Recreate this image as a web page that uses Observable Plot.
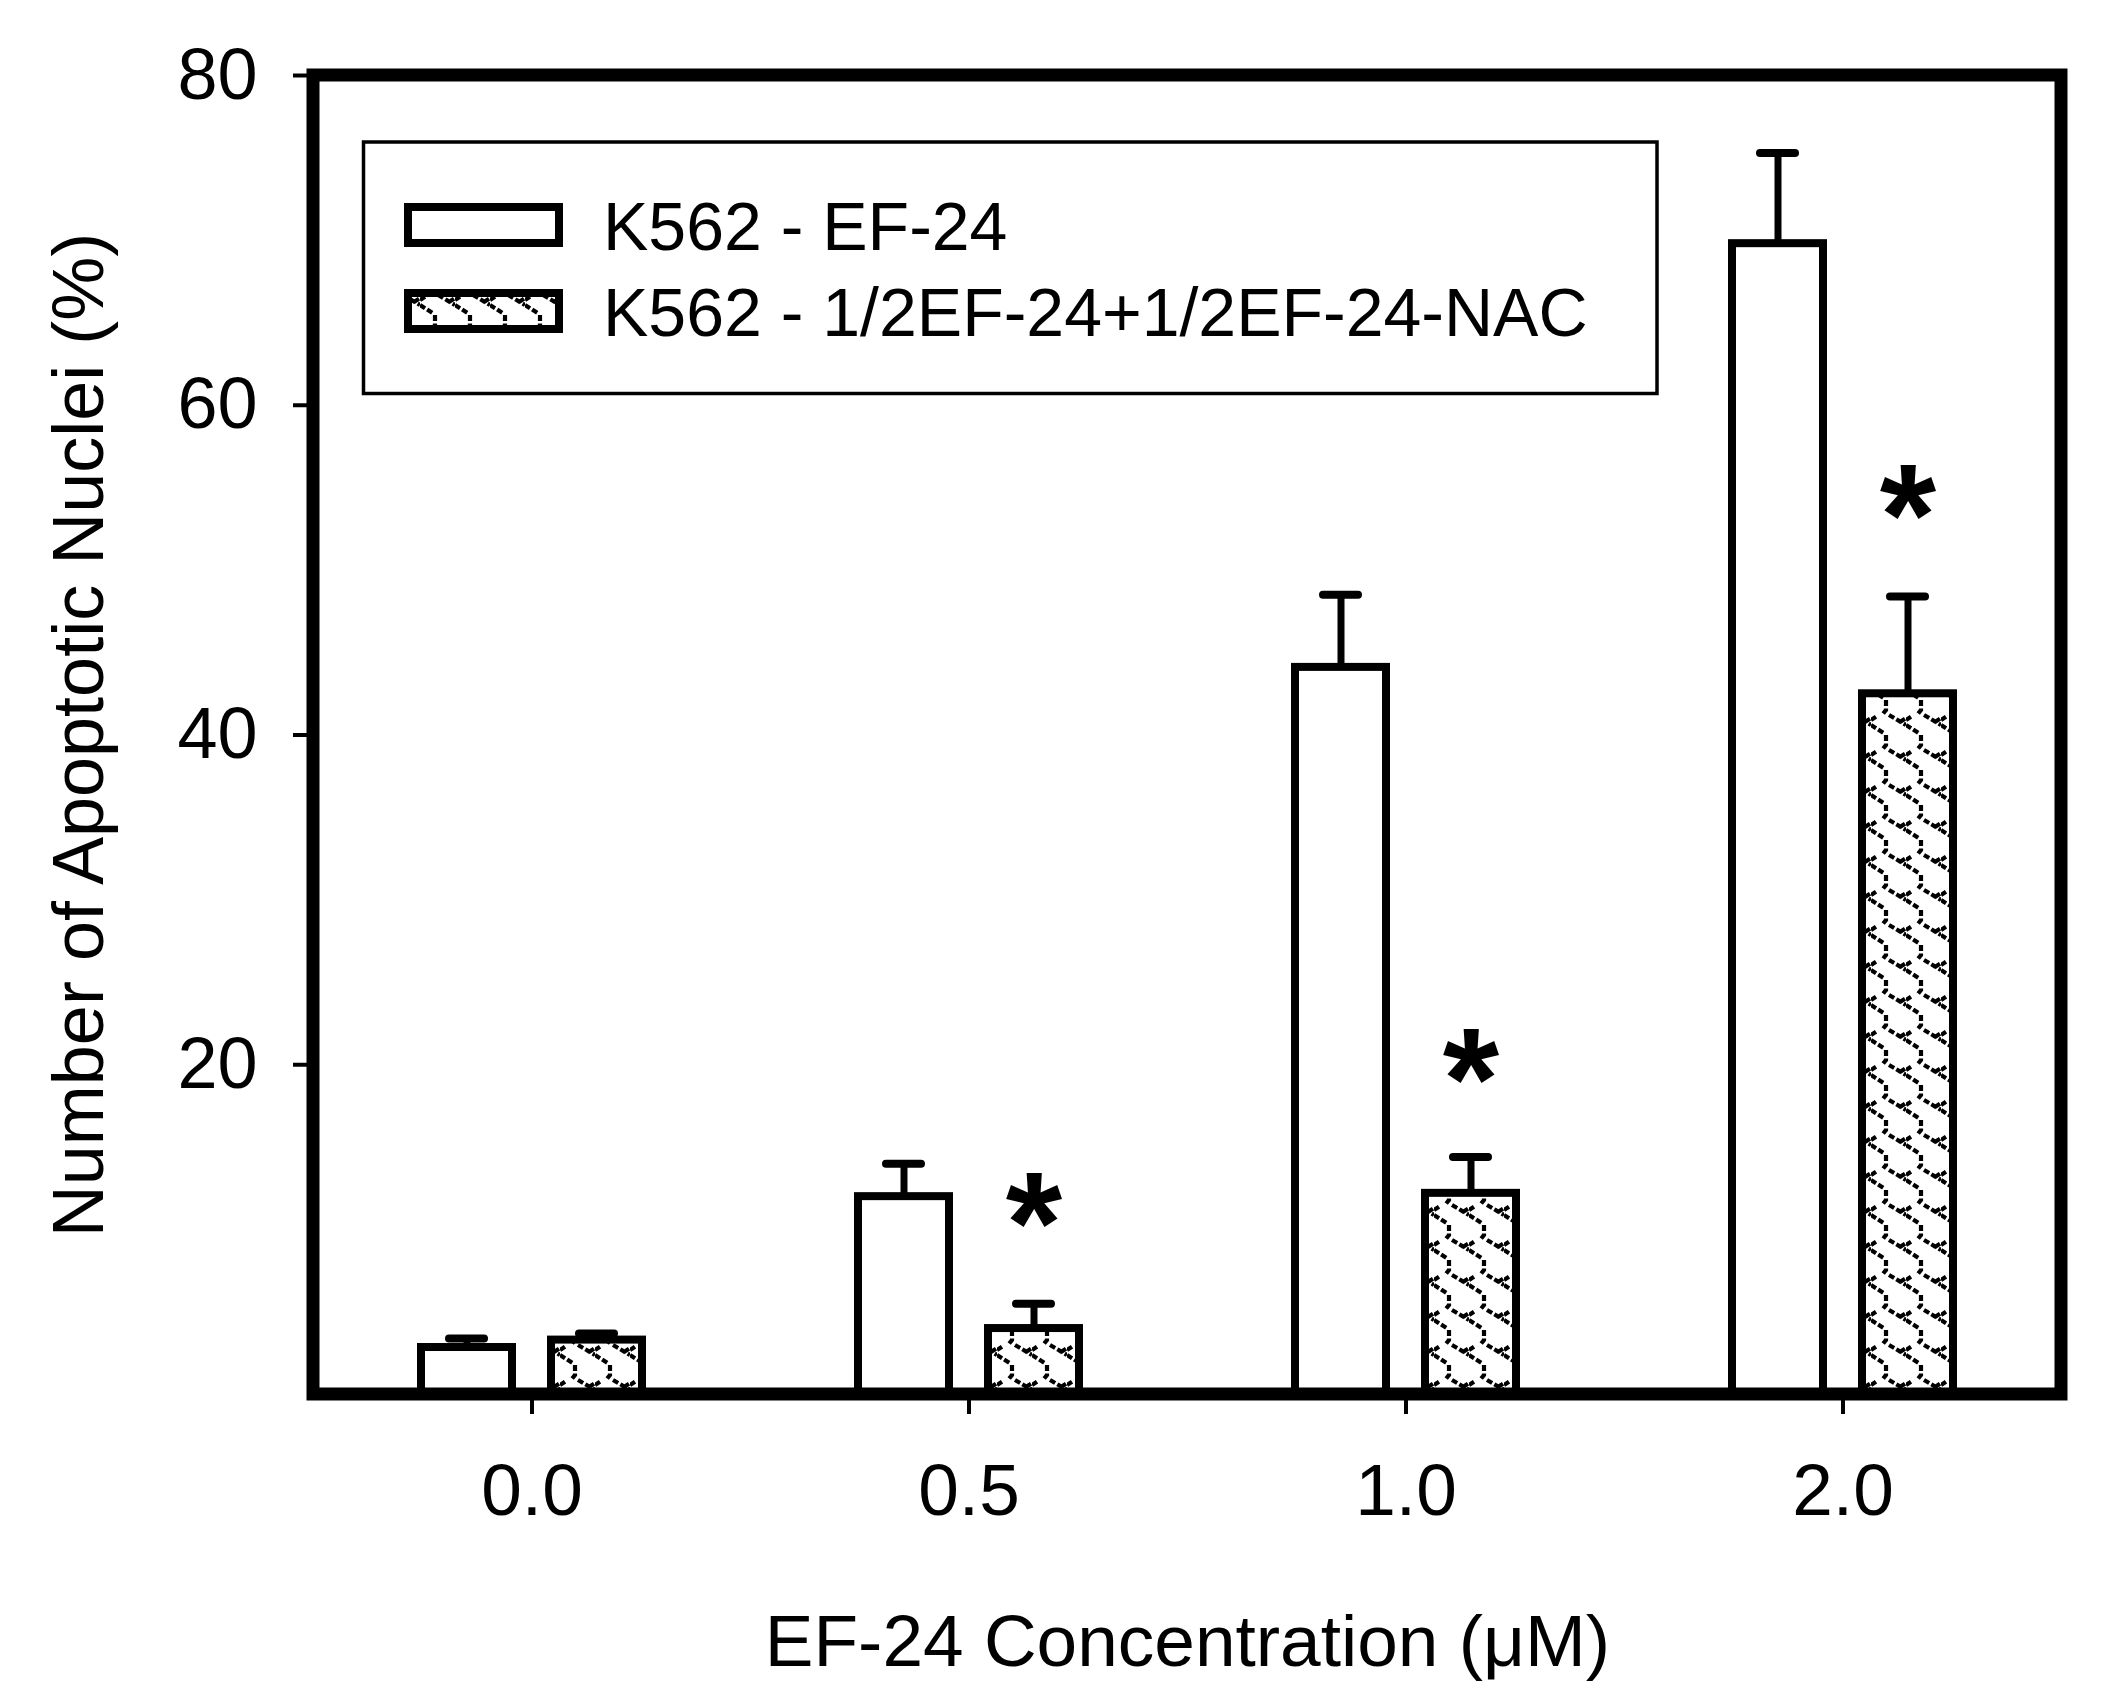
<!DOCTYPE html>
<html><head><meta charset="utf-8">
<script src="https://cdn.jsdelivr.net/npm/d3@7"></script>
<script src="https://cdn.jsdelivr.net/npm/@observablehq/plot@0.6"></script>
<style>html,body{margin:0;padding:0;background:#fff;overflow:hidden}</style>
</head><body><div id="chart"></div>
<script>
// ---- data ----
const concentrations = ["0.0", "0.5", "1.0", "2.0"];
const seriesNames = ["K562 - EF-24", "K562 - 1/2EF-24+1/2EF-24-NAC"];
const ef24Means = [2.85, 12.0, 44.1, 69.8];
const ef24Errors = [0.55, 2.0, 4.4, 5.5];
const nacMeans = [3.3, 4.0, 12.2, 42.5];
const nacErrors = [0.4, 1.5, 2.2, 5.9];
const significanceMarks = ["", "*", "*", "*"];
const significanceY = [null, 11.9, 20.6, 54.8];
const yTicks = [20, 40, 60, 80];
const yDomain = [0, 80];
const xTitle = "EF-24 Concentration (\u03BCM)";
const yTitle = "Number of Apoptotic Nuclei (%)";

const rows = [];
concentrations.forEach((c, i) => {
  rows.push({conc: c, series: seriesNames[0], mean: ef24Means[i], err: ef24Errors[i]});
  rows.push({conc: c, series: seriesNames[1], mean: nacMeans[i], err: nacErrors[i]});
});
const stars = concentrations
  .map((c, i) => ({conc: c, series: seriesNames[1], mark: significanceMarks[i], y: significanceY[i]}))
  .filter(d => d.mark);

// ---- layout ----
const W = 2104, H = 1702;
const M = {top: 75, right: 43, bottom: 308, left: 313};
const FONT = "'Liberation Sans', Arial, Helvetica, sans-serif";

const chart = Plot.plot({
  width: W, height: H,
  marginTop: M.top, marginRight: M.right, marginBottom: M.bottom, marginLeft: M.left,
  style: {fontFamily: FONT, fontSize: "72px", color: "#000", background: "#fff"},
  fx: {domain: concentrations, padding: 0},
  x: {domain: seriesNames, paddingInner: 0.298, paddingOuter: 0.817, align: 0.5, axis: null},
  y: {domain: yDomain},
  color: {domain: seriesNames, range: ["#ffffff", "url(#nacPattern)"]},
  marks: [
    Plot.barY(rows, {fx: "conc", x: "series", y: "mean", fill: "series", stroke: "#000", strokeWidth: 8}),
    Plot.ruleX(rows, {fx: "conc", x: "series", y1: "mean", y2: d => d.mean + d.err, stroke: "#000", strokeWidth: 7}),
    Plot.tickY(rows, {fx: "conc", x: "series", y: d => d.mean + d.err, stroke: "#000", strokeWidth: 8, strokeLinecap: "round", inset: 28}),
    Plot.text(stars, {fx: "conc", x: "series", y: "y", text: "mark", fontSize: 145, fontWeight: "bold", dy: 28, fill: "#000"}),
    Plot.axisY({ticks: yTicks, tickSize: 20, tickPadding: 36, strokeWidth: 4, fontSize: 72,
      label: yTitle, labelAnchor: "center", labelOffset: 262, labelArrow: "none"}),
    Plot.axisFx({anchor: "bottom", tickSize: 20, tickPadding: 49, strokeWidth: 4, fontSize: 73,
      label: xTitle, labelAnchor: "center", labelOffset: 271, labelArrow: "none"})
  ]
});

document.getElementById("chart").appendChild(chart);

// ---- decorations: pattern, frame, legend ----
const svg = d3.select(chart);
const defs = svg.insert("defs", ":first-child");
const pat = defs.append("pattern").attr("id", "nacPattern")
  .attr("patternUnits", "userSpaceOnUse").attr("width", 35).attr("height", 35);
pat.append("rect").attr("width", 35).attr("height", 35).attr("fill", "#fff");
pat.append("path")
  .attr("d", "M15,0 L15,10 L11,15 M18,15 L35,25 M0,25 L14,34 M0,20 L6,16 M29,22 L35,18")
  .attr("fill", "none").attr("stroke", "#000").attr("stroke-width", 4.2)
  .attr("stroke-dasharray", "6 2.5");

// outer frame
svg.append("rect")
  .attr("x", M.left).attr("y", M.top)
  .attr("width", W - M.left - M.right).attr("height", H - M.top - M.bottom)
  .attr("fill", "none").attr("stroke", "#000").attr("stroke-width", 13);

// legend
const lg = svg.append("g").attr("font-family", FONT).attr("text-anchor", "start");
lg.append("rect").attr("x", 363.5).attr("y", 142).attr("width", 1293.5).attr("height", 251.5)
  .attr("fill", "#fff").attr("stroke", "#000").attr("stroke-width", 3.5);
const legendFills = ["#ffffff", "url(#nacPattern)"];
seriesNames.forEach((name, i) => {
  const y = 207 + i * 86;
  lg.append("rect").attr("x", 408).attr("y", y).attr("width", 151).attr("height", 36)
    .attr("fill", legendFills[i]).attr("stroke", "#000").attr("stroke-width", 8);
  lg.append("text").attr("x", 603).attr("y", y + 43).attr("font-size", 68)
    .attr("text-anchor", "start").attr("fill", "#000").text(name);
});
</script>
</body></html>
